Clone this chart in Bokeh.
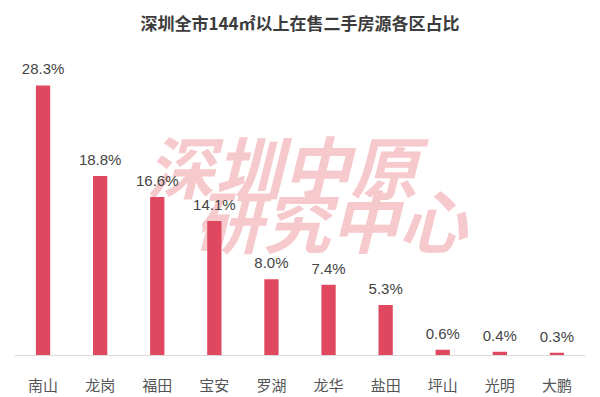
from bokeh.plotting import figure
from bokeh.models import ColumnDataSource, Label, Range1d
from bokeh.core.properties import value
from bokeh.embed import file_html
from bokeh.resources import INLINE

districts = ["南山", "龙岗", "福田", "宝安", "罗湖", "龙华", "盐田", "坪山", "光明", "大鹏"]
shares = [28.3, 18.8, 16.6, 14.1, 8.0, 7.4, 5.3, 0.6, 0.4, 0.3]
labels = [f"{v:.1f}%" for v in shares]
title_text = "深圳全市144㎡以上在售二手房源各区占比"
watermark_lines = ["深圳中原", "研究中心"]

FONT = "Noto Sans CJK SC"

src = ColumnDataSource(dict(x=districts, top=shares, label=labels))

p = figure(x_range=districts, width=600, height=397, output_backend="svg",
           toolbar_location=None, title=title_text,
           min_border_left=14, min_border_right=15, min_border_top=0, min_border_bottom=0)
p.y_range = Range1d(0, 32.9)

p.title.align = "center"
p.title.text_font = FONT
p.title.text_font_size = "17px"
p.title.text_font_style = "bold"
p.title.text_color = "#3c3c3c"
p.title.standoff = 14
p.title.offset = 0

# watermark
wm1 = Label(x=132, y=142, x_units="screen", y_units="screen", text=watermark_lines[0],
            text_font=FONT, text_font_size="68px", text_font_style="bold italic",
            text_color="#f6c9cd", level="underlay")
wm2 = Label(x=180, y=88, x_units="screen", y_units="screen", text=watermark_lines[1],
            text_font=FONT, text_font_size="68px", text_font_style="bold italic",
            text_color="#f6c9cd", level="underlay")
p.add_layout(wm1)
p.add_layout(wm2)

p.vbar(x="x", top="top", width=0.25, source=src, color="#e0485f", line_color=None)
p.text(x="x", y="top", text="label", source=src, text_align="center",
       text_baseline="bottom", y_offset=-8, text_font=value("Liberation Sans"),
       text_font_size="15px", text_color="#444444")

p.yaxis.visible = False
p.xgrid.visible = False
p.ygrid.visible = False
p.outline_line_color = None
p.xaxis.axis_line_color = "#d9d9d9"
p.xaxis.major_tick_line_color = None
p.xaxis.minor_tick_line_color = None
p.xaxis.major_label_text_font = FONT
p.xaxis.major_label_text_font_size = "15px"
p.xaxis.major_label_text_color = "#555555"
p.xaxis.major_label_standoff = 12
p.x_range.range_padding = 0

open("out.html", "w").write(file_html(p, INLINE))
